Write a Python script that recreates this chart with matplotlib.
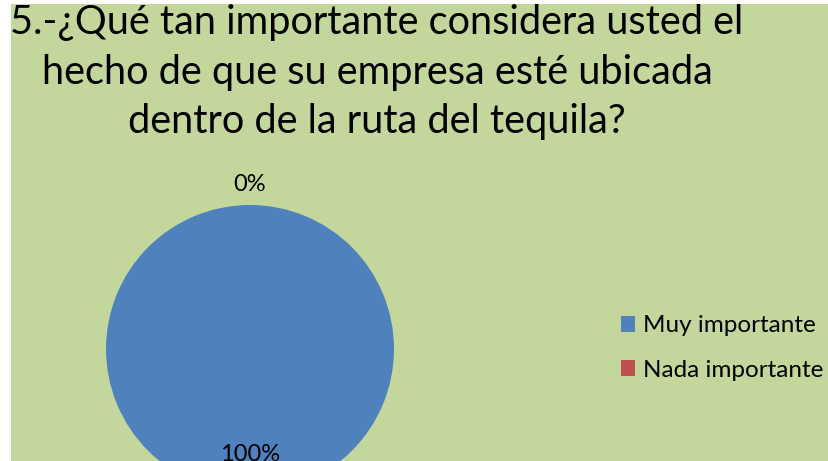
import numpy as np
import matplotlib.pyplot as plt
from matplotlib.patches import Rectangle

plt.rcParams['font.family'] = ['Lato', 'DejaVu Sans']

categorias = ['Muy importante', 'Nada importante']
valores = [100, 0]
colores = ['#4f81bd', '#c0504d']
titulo = '5.-¿Qué tan importante considera usted el\nhecho de que su empresa esté ubicada\ndentro de la ruta del tequila?'

W, H = 829, 461
fig = plt.figure(figsize=(W / 100, H / 100), dpi=100)
fig.patch.set_facecolor('white')
# green chart area (white strip at left and top)
fig.patches.append(Rectangle((11 / W, 0), 1, (H - 4) / H, transform=fig.transFigure,
                             facecolor='#c3d69b', edgecolor='none', zorder=-10))

fig.text(377 / W, 1 - 4 / H, titulo, ha='center', va='top', multialignment='center',
         fontsize=28.6, linespacing=1.42)

# pie axes: centre (250, 349) px, radius 144 px
r = 144
ax = fig.add_axes([(250 - r) / W, (H - 349 - r) / H, 2 * r / W, 2 * r / H])
ax.set_facecolor('none')
wedges, texts, autotexts = ax.pie(valores, colors=colores, startangle=90, counterclock=False,
                                  autopct='%1.0f%%', pctdistance=0.73,
                                  textprops={'fontsize': 17})
for w in wedges:
    w.set_clip_on(False)
# 0% label outside the pie
w = wedges[1]
ang = np.deg2rad((w.theta1 + w.theta2) / 2)
autotexts[1].set_position((1.14 * np.cos(ang), 1.14 * np.sin(ang)))
ax.set_xlim(-1, 1)
ax.set_ylim(-1, 1)
ax.axis('off')

fig.legend(wedges, categorias, loc='center left', bbox_to_anchor=(611 / W, 1 - 348 / H),
           frameon=False, fontsize=17.5, handlelength=0.6, handleheight=0.6,
           handletextpad=0.3, labelspacing=0.95, borderaxespad=0)

fig.savefig('out.png', dpi=100)
plt.close()
